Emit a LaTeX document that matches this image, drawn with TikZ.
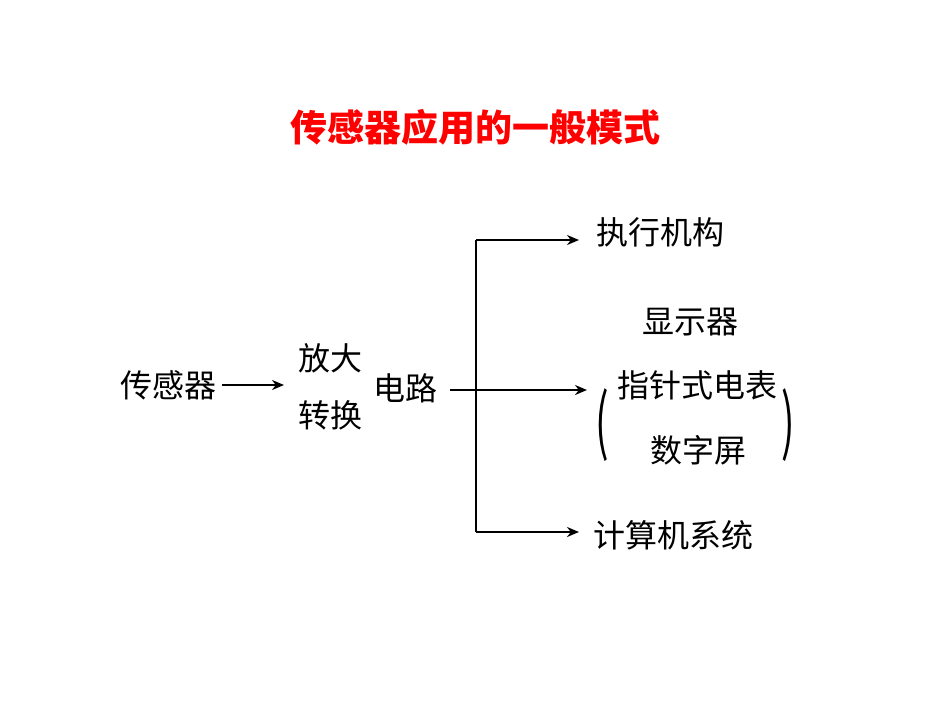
\documentclass[tikz,border=0pt]{standalone}
\usepackage{fontspec}
\newfontfamily\cjk{Noto Sans CJK SC}
\usetikzlibrary{arrows.meta}
\begin{document}
\begin{tikzpicture}[x=1pt,y=-1pt,
  lbl/.style={font=\cjk\fontsize{32}{36}\selectfont,inner sep=0pt},
  arr/.style={line width=2.5pt,-{Stealth[length=12pt,width=10pt]}}]
\useasboundingbox (0,0) rectangle (950,713);
\node[font=\cjk\bfseries\fontsize{37}{40}\selectfont,text=red] (t) at (475,127) {传感器应用的一般模式};
\node[lbl] (s) at (168,385) {传感器};
\node[lbl] (f1) at (330,358) {放大};
\node[lbl] (f2) at (330,415) {转换};
\node[lbl] (d) at (405,388) {电路};
\node[lbl] (z) at (660,232) {执行机构};
\node[lbl] (x) at (690,322) {显示器};
\node[lbl] (x1) at (697,385) {指针式电表};
\node[lbl] (x2) at (698,450) {数字屏};
\node[lbl] (j) at (673,535) {计算机系统};
\node[font=\cjk\fontsize{40}{80}\selectfont,yscale=1.8,inner sep=0pt] (p1) at (602,425) {(};
\node[font=\cjk\fontsize{40}{80}\selectfont,yscale=1.8,inner sep=0pt] (p2) at (788,425) {)};
\coordinate (e) at (450,390);
\coordinate (bt) at (476,240);
\coordinate (bb) at (476,532);
\draw[arr] (222,385) -- (284,385);
\draw[arr] (e) -- (587,390);
\draw[line width=2.5pt] (bt) -- (bb);
\draw[arr] (bt) -- (579,240);
\draw[arr] (bb) -- (579,532);
\end{tikzpicture}
\end{document}
